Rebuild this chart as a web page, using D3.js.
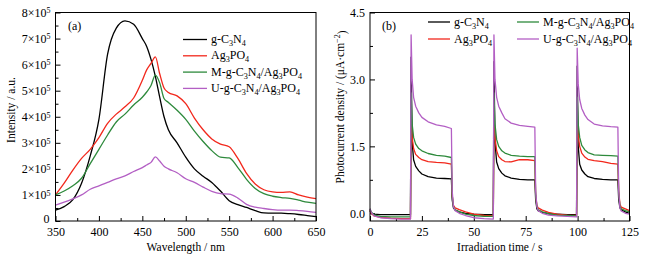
<!DOCTYPE html>
<html>
<head>
<meta charset="utf-8">
<script src="https://cdn.jsdelivr.net/npm/d3@7/dist/d3.min.js"></script>
<style>
  body { margin: 0; background: #fff; }
  svg text { font-family: "Liberation Serif", "Times New Roman", serif; fill: #000; }
  .tick text { font-size: 12px; }
  .tick line { stroke: #000; }
</style>
</head>
<body>
<div id="chart"></div>
<script>
// ---- panel (a): PL spectra (intensity in units of 1e5) ----
const wavelength = [350,360,370,380,390,400,410,420,430,440,450,455,460,465,470,475,480,490,500,510,520,530,540,550,560,570,580,590,600,610,620,630,640,650];
const plG = [0.42,0.55,0.82,1.45,2.5,3.9,6.4,7.4,7.68,7.55,7.0,6.7,6.2,5.55,4.75,4.0,3.5,3.0,2.45,2.0,1.72,1.48,1.15,0.78,0.63,0.52,0.4,0.31,0.3,0.3,0.28,0.25,0.21,0.17];
const plAg = [1.0,1.45,1.95,2.4,2.75,3.2,3.75,4.1,4.38,4.72,5.4,5.8,6.05,6.3,5.65,5.1,4.93,4.8,4.5,3.95,3.5,3.15,2.95,2.85,2.4,1.83,1.42,1.2,1.12,1.1,1.12,1.0,0.92,0.86];
const plM = [1.0,1.15,1.35,1.64,2.2,2.75,3.3,3.8,4.1,4.45,4.75,4.95,5.2,5.6,5.3,4.7,4.55,4.25,3.9,3.45,3.05,2.7,2.45,2.42,2.05,1.6,1.25,1.05,0.95,0.9,0.87,0.8,0.72,0.68];
const plU = [0.61,0.72,0.85,1.0,1.22,1.35,1.48,1.62,1.73,1.9,2.05,2.15,2.25,2.46,2.3,2.1,2.0,1.85,1.62,1.48,1.3,1.14,1.05,1.03,0.88,0.64,0.53,0.48,0.44,0.42,0.42,0.4,0.37,0.33];
const xTicksA = [350,400,450,500,550,600,650];
const yTicksA = [0,1,2,3,4,5,6,7,8];

// ---- panel (b): photocurrent (uA/cm2) ----
const time = [0,0.6,2,5,10,15,19.5,
  19.8,20.3,21,22,23.5,25,28,32,36,39.2,
  39.6,40.2,41,43,46,50,55,59.4,
  59.7,60.2,61,62,63.5,65,68,72,76,79.4,
  79.8,80.4,81,83,86,90,95,99.5,
  99.8,100.3,101,102,103.5,105,108,112,116,119.4,
  119.8,120.4,121,123,125];
const pcG = [0.06,0.0,-0.02,-0.03,-0.03,-0.03,-0.03,
  3.5,1.6,1.2,1.05,0.95,0.88,0.82,0.79,0.78,0.77,
  0.3,0.12,0.07,0.03,0.0,-0.02,-0.03,-0.03,
  3.4,1.6,1.15,1.0,0.9,0.84,0.79,0.76,0.75,0.75,
  0.3,0.1,0.06,0.02,-0.01,-0.02,-0.03,-0.03,
  3.3,1.5,1.1,0.97,0.88,0.82,0.78,0.76,0.75,0.75,
  0.3,0.12,0.08,0.03,0.0];
const pcAg = [0.08,0.0,-0.06,-0.09,-0.11,-0.12,-0.12,
  2.1,1.7,1.45,1.32,1.25,1.2,1.16,1.14,1.13,1.1,
  0.4,0.18,0.12,0.08,0.03,-0.02,-0.05,-0.06,
  2.1,1.7,1.4,1.27,1.2,1.16,1.15,1.2,1.2,1.18,
  0.4,0.18,0.12,0.07,0.02,-0.02,-0.04,-0.05,
  2.0,1.75,1.5,1.35,1.26,1.21,1.18,1.16,1.12,1.1,
  0.5,0.2,0.14,0.1,0.06];
const pcM = [0.1,0.03,-0.04,-0.07,-0.08,-0.08,-0.08,
  2.7,2.0,1.7,1.55,1.45,1.4,1.34,1.3,1.28,1.25,
  0.4,0.15,0.08,0.03,-0.02,-0.05,-0.07,-0.07,
  2.7,2.0,1.65,1.5,1.4,1.35,1.3,1.28,1.27,1.27,
  0.4,0.15,0.08,0.03,-0.01,-0.04,-0.05,-0.06,
  2.6,2.0,1.7,1.52,1.42,1.36,1.31,1.3,1.29,1.28,
  0.45,0.15,0.1,0.06,0.03];
const pcU = [0.1,0.02,-0.06,-0.1,-0.12,-0.13,-0.13,
  4.0,3.0,2.6,2.4,2.25,2.15,2.05,1.98,1.95,1.9,
  0.5,0.15,0.06,0.0,-0.05,-0.1,-0.12,-0.13,
  4.0,3.0,2.6,2.4,2.25,2.12,2.02,1.97,1.95,1.93,
  0.5,0.15,0.06,0.0,-0.04,-0.06,-0.07,-0.08,
  3.7,2.9,2.55,2.35,2.2,2.1,2.0,1.96,1.94,1.93,
  0.5,0.12,0.05,0.0,-0.02];
const xTicksB = [0,25,50,75,100,125];
const yTicksB = [0,1.5,3,4.5];

const names = ["g-C{3}N{4}", "Ag{3}PO{4}", "M-g-C{3}N{4}/Ag{3}PO{4}", "U-g-C{3}N{4}/Ag{3}PO{4}"];
const colors = ["#000000", "#f2281c", "#2e8a3c", "#b35fc4"];

const svg = d3.select("#chart").append("svg")
  .attr("width", 650).attr("height", 260);

// write "C{3}" style labels with subscripts
function richText(sel, str) {
  const parts = str.split(/(\{[^}]*\})/).filter(s => s.length);
  parts.forEach(p => {
    if (p[0] === "{") {
      sel.append("tspan").attr("dy", 3).attr("font-size", "0.68em").text(p.slice(1, -1));
    } else {
      // undo the subscript shift before normal text
      const prev = sel.node().lastChild;
      const t = sel.append("tspan").text(p);
      if (prev && prev.getAttribute("dy") === "3") t.attr("dy", -3);
    }
  });
}

function frame(x, y) {
  svg.append("rect")
    .attr("x", x.range()[0]).attr("y", y.range()[1])
    .attr("width", x.range()[1] - x.range()[0])
    .attr("height", y.range()[0] - y.range()[1])
    .attr("fill", "none").attr("stroke", "#000").attr("stroke-width", 1);
}

function axes(x, y, xt, yt, xMinor, yMinor, xFmt, yFmt) {
  const b = y.range()[0], l = x.range()[0];
  svg.append("g").attr("transform", `translate(0,${b})`)
    .call(d3.axisBottom(x).tickValues(xMinor).tickSizeInner(-3).tickSizeOuter(0).tickFormat(""))
    .call(g => g.select(".domain").remove());
  svg.append("g").attr("transform", `translate(${l},0)`)
    .call(d3.axisLeft(y).tickValues(yMinor).tickSizeInner(-3).tickSizeOuter(0).tickFormat(""))
    .call(g => g.select(".domain").remove());
  svg.append("g").attr("transform", `translate(0,${b})`)
    .call(d3.axisBottom(x).tickValues(xt).tickSizeInner(-5).tickSizeOuter(0).tickPadding(6).tickFormat(xFmt))
    .call(g => g.select(".domain").remove());
  return svg.append("g").attr("transform", `translate(${l},0)`)
    .call(d3.axisLeft(y).tickValues(yt).tickSizeInner(-5).tickSizeOuter(0).tickPadding(5).tickFormat(yFmt))
    .call(g => g.select(".domain").remove());
}

// ---------- panel (a) ----------
const xA = d3.scaleLinear().domain([350, 650]).range([55.5, 316]);
const yA = d3.scaleLinear().domain([0, 8]).range([221, 12.5]);

const yAxA = axes(xA, yA, xTicksA, yTicksA,
  d3.range(375, 650, 50), d3.range(0.5, 8, 1), d3.format("d"), d => d);
yAxA.selectAll(".tick text").each(function(d) {
  const t = d3.select(this).text(null);
  if (d === 0) { t.text("0").attr("dy", "0.1em").attr("dx", -1); return; }
  t.append("tspan").text(d + "\u00d710");
  t.append("tspan").attr("dy", "-0.45em").attr("font-size", "8px").text("5");
});

const lineA = d3.line().curve(d3.curveMonotoneX);
[plG, plAg, plM, plU].forEach((s, i) => {
  svg.append("path")
    .attr("d", lineA(s.map((v, j) => [xA(wavelength[j]), yA(v)])))
    .attr("fill", "none").attr("stroke", colors[i]).attr("stroke-width", 1.3);
});
frame(xA, yA);

svg.append("text").attr("x", 68).attr("y", 30).attr("font-size", 12).text("(a)");

const legA = svg.append("g");
names.forEach((n, i) => {
  const yy = 39.5 + i * 16.3;
  legA.append("line").attr("x1", 183).attr("x2", 207).attr("y1", yy).attr("y2", yy)
    .attr("stroke", colors[i]).attr("stroke-width", 1.3);
  const t = legA.append("text").attr("x", 211).attr("y", yy + 3.5).attr("font-size", 12);
  richText(t, n);
});

svg.append("text")
  .attr("x", (55.5 + 316) / 2).attr("y", 251)
  .attr("text-anchor", "middle").attr("font-size", 11.5)
  .text("Wavelength / nm");
svg.append("text")
  .attr("transform", "translate(11,110) rotate(-90)")
  .attr("dy", "0.35em")
  .attr("text-anchor", "middle").attr("font-size", 11.5)
  .text("Intensity / a.u.");

// ---------- panel (b) ----------
const xB = d3.scaleLinear().domain([0, 125]).range([370, 629.5]);
const yB = d3.scaleLinear().domain([-0.173, 4.5]).range([221, 12.5]);

axes(xB, yB, xTicksB, yTicksB,
  d3.range(12.5, 125, 25), d3.range(0.75, 4.5, 1.5), d3.format("d"), d3.format(".1f"));

const lineB = d3.line();
[pcG, pcAg, pcM, pcU].forEach((s, i) => {
  svg.append("path")
    .attr("d", lineB(s.map((v, j) => [xB(time[j]), yB(v)])))
    .attr("fill", "none").attr("stroke", colors[i]).attr("stroke-width", 1.3)
    .attr("stroke-linejoin", "round");
});
frame(xB, yB);

svg.append("text").attr("x", 382).attr("y", 30).attr("font-size", 12).text("(b)");

const legB = svg.append("g");
names.forEach((n, i) => {
  const col = i < 2 ? 0 : 1, row = i % 2;
  const x0 = col === 0 ? 428 : 517;
  const yy = 22 + row * 17;
  legB.append("line").attr("x1", x0).attr("x2", x0 + 22).attr("y1", yy).attr("y2", yy)
    .attr("stroke", colors[i]).attr("stroke-width", 1.3);
  const t = legB.append("text").attr("x", x0 + 26).attr("y", yy + 3.5).attr("font-size", 12);
  richText(t, n);
});

svg.append("text")
  .attr("x", (370 + 629.5) / 2).attr("y", 251)
  .attr("text-anchor", "middle").attr("font-size", 11.5)
  .text("Irradiation time / s");
const yt = svg.append("text")
  .attr("transform", "translate(340,107) rotate(-90)")
  .attr("dy", "0.35em")
  .attr("text-anchor", "middle").attr("font-size", 11.5);
yt.append("tspan").text("Photocurrent density / (\u03bcA\u00b7cm");
yt.append("tspan").attr("dy", "-0.45em").attr("font-size", "8px").text("\u22122");
yt.append("tspan").attr("dy", "0.45em").text(")");
</script>
</body>
</html>
